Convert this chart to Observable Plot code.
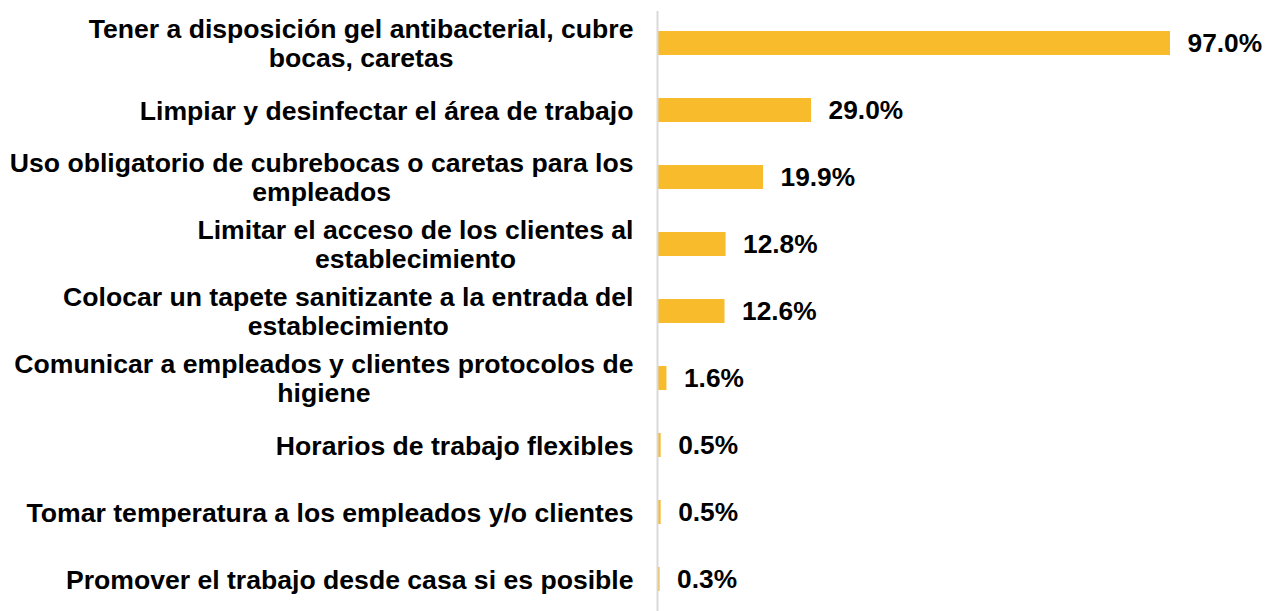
<!DOCTYPE html>
<html>
<head>
<meta charset="utf-8">
<script src="https://cdn.jsdelivr.net/npm/d3@7"></script>
<script src="https://cdn.jsdelivr.net/npm/@observablehq/plot@0.6"></script>
<style>
  html, body { margin: 0; padding: 0; background: #fff; }
  #chart { width: 1271px; height: 611px; }
</style>
</head>
<body>
<div id="chart"></div>
<script>
const categories = [
  "Tener a disposición gel antibacterial, cubre\nbocas, caretas",
  "Limpiar y desinfectar el área de trabajo",
  "Uso obligatorio de cubrebocas o caretas para los\nempleados",
  "Limitar el acceso de los clientes al\nestablecimiento",
  "Colocar un tapete sanitizante a la entrada del\nestablecimiento",
  "Comunicar a empleados y clientes protocolos de\nhigiene",
  "Horarios de trabajo flexibles",
  "Tomar temperatura a los empleados y/o clientes",
  "Promover el trabajo desde casa si es posible"
];
const values = [97.0, 29.0, 19.9, 12.8, 12.6, 1.6, 0.5, 0.5, 0.3];

const data = categories.map((c, i) => ({category: c, value: values[i]}));
const font = "'Liberation Sans', Arial, Helvetica, sans-serif";

const chart = Plot.plot({
  width: 1271,
  height: 611,
  marginLeft: 658,
  marginRight: 101,
  marginTop: 11,
  marginBottom: 0,
  style: {fontFamily: font, color: "#000", background: "#fff"},
  x: {domain: [0, 97], axis: null},
  y: {domain: categories, paddingInner: 0.644, paddingOuter: 0.27, axis: null},
  marks: [
    Plot.barX(data, {y: "category", x: "value", fill: "#f8bb2b"}),
    Plot.ruleX([0], {stroke: "#d9d9d9", strokeWidth: 2, dx: -1}),
    Plot.axisY({
      tickSize: 0,
      tickPadding: 25,
      fontSize: 26.6,
      fontWeight: "bold",
      lineHeight: 1.09,
      fill: "#000",
      textAnchor: "end",
      label: null,
      className: "ylab"
    }),
    Plot.text(data, {
      y: "category",
      x: "value",
      text: d => d.value.toFixed(1) + "%",
      textAnchor: "start",
      dx: 17,
      fontSize: 26.3,
      fontWeight: "bold",
      fill: "#000"
    })
  ]
});

document.getElementById("chart").appendChild(chart);

// Center multi-line labels within their block, keeping the block right-aligned
chart.querySelectorAll('g[aria-label="y-axis tick label"] text').forEach(t => {
  const w = t.getBBox().width;
  t.setAttribute("text-anchor", "middle");
  const tr = t.getAttribute("transform") || "";
  t.setAttribute("transform", tr + ` translate(${-w / 2},0)`);
});
</script>
</body>
</html>
